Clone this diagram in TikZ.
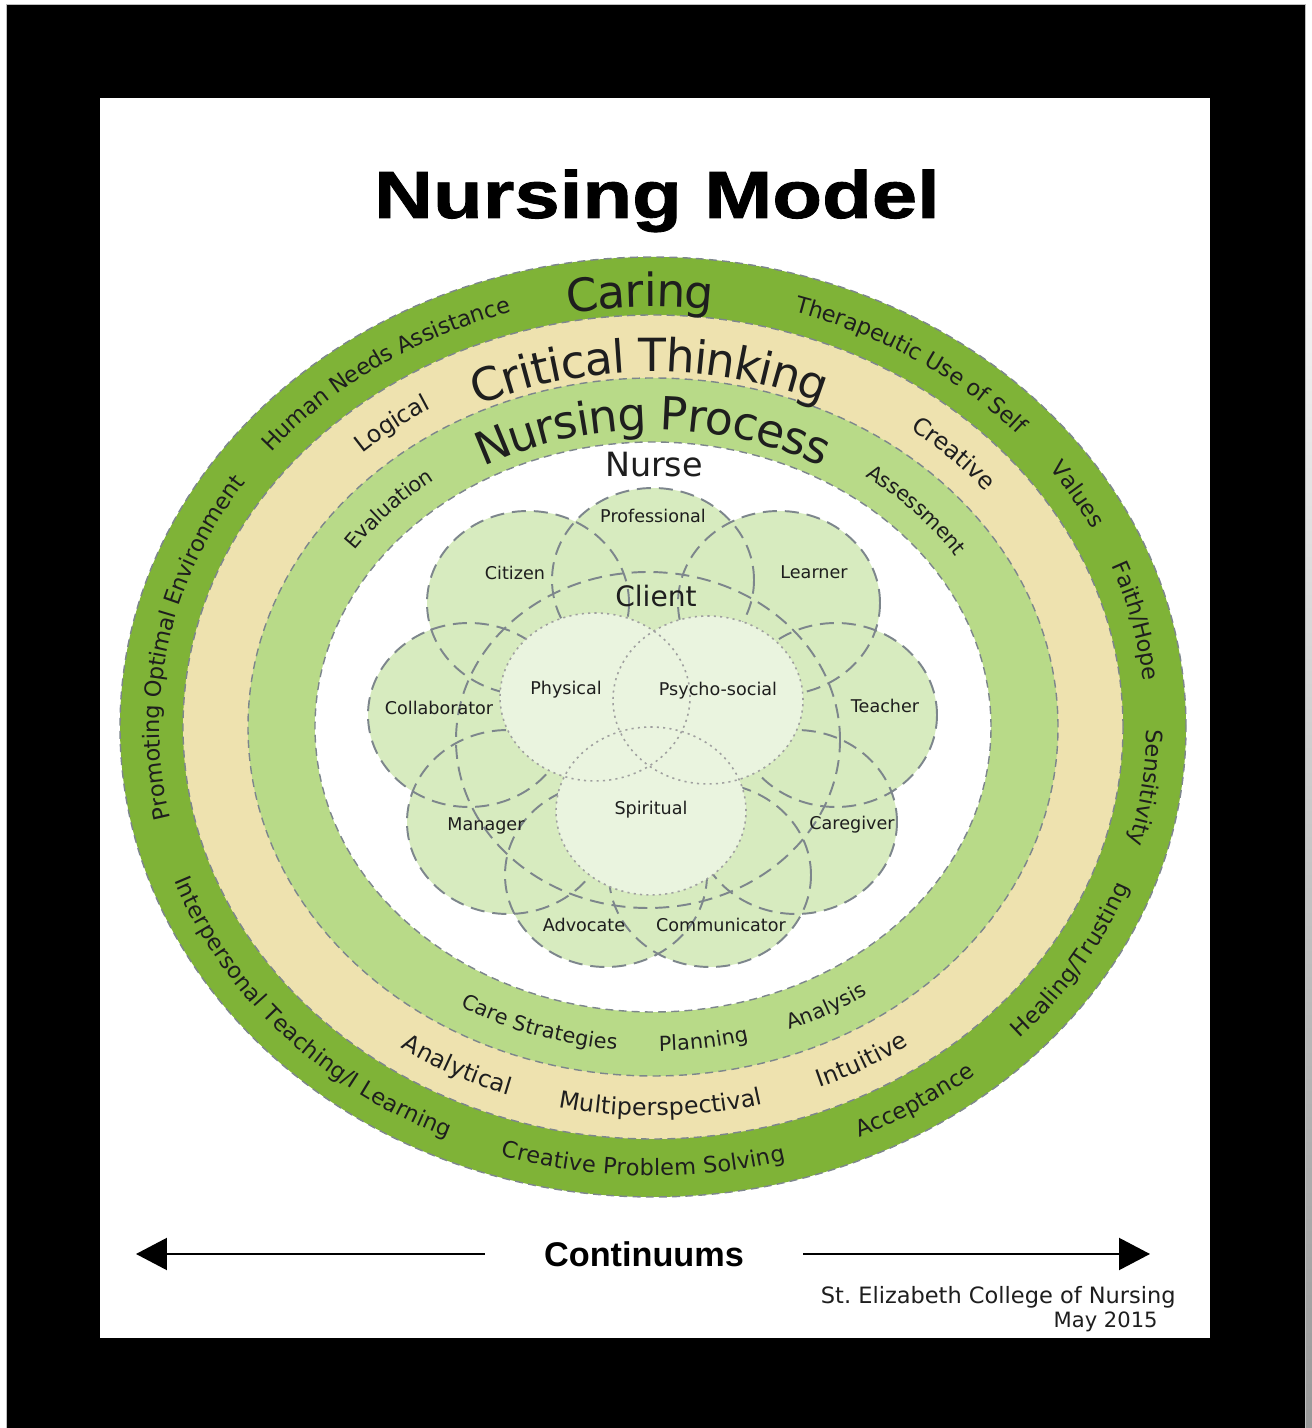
\documentclass[tikz,border=0pt]{standalone}
\usepackage{fontspec}
\setmainfont{DejaVu Sans}
\newfontfamily\titlefont[FakeStretch=1.22, FakeBold=1.3]{Liberation Sans Bold}
\newfontfamily\arialbold{Liberation Sans Bold}
\usetikzlibrary{arrows.meta, decorations.text}

\definecolor{caringgreen}{HTML}{7FB337}
\definecolor{thinktan}{HTML}{EEE2AF}
\definecolor{processgreen}{HTML}{B8DA88}
\definecolor{petalgreen}{HTML}{D7EBBF}
\definecolor{corewhite}{HTML}{EAF4DF}
\definecolor{dashgrey}{HTML}{7D868C}
\definecolor{inkgrey}{HTML}{1E1E1E}

\newcommand\headfont{\fontsize{26}{26}\selectfont}
\newcommand\caringfont{\fontsize{12.8}{13}\selectfont}
\newcommand\thinkfont{\fontsize{13.5}{14}\selectfont}
\newcommand\processfont{\fontsize{11.8}{12}\selectfont}

\tikzset{
  ringedge/.style={draw=dashgrey, line width=0.8pt, dash pattern=on 4.5pt off 3pt},
  petaledge/.style={draw=dashgrey, line width=1.1pt, dash pattern=on 8pt off 4.5pt},
  coreedge/.style={draw=gray!75, line width=0.9pt, dash pattern=on 1.2pt off 2.4pt},
  ringtext/.style={decorate, decoration={text along path, text align=center, text color=inkgrey, raise=#1}},
  ringtext/.default=-4.5pt,
  rolelabel/.style={font=\fontsize{10}{10}\selectfont, text=inkgrey, inner sep=1pt},
  continuum/.style={line width=1.2pt, -{Triangle[length=0.62cm, width=0.64cm]}},
}

\begin{document}
\begin{tikzpicture}[x=0.02cm, y=0.02cm]
    \useasboundingbox (0,0) rectangle (1312,1428);
    % frame
    \fill[white] (0,0) rectangle (1312,1428);
    \shade[top color=white, bottom color=gray!80] (1305,0) rectangle (1312,1298);
    \filldraw[fill=black, draw=gray!50, line width=0.3pt] (6,0) rectangle (1305,1424);
    \fill[white] (100,90) rectangle (1210,1330);

    \node[font=\titlefont\fontsize{38}{38}\selectfont, anchor=base] (title) at (657,1210) {Nursing Model};

    % rings
    \coordinate (ctr) at (653,701);
    \foreach \rx/\ry/\col in {533/470/caringgreen, 470/412/thinktan, 405/349/processgreen, 338/285/white}
        \filldraw[fill=\col, ringedge] (ctr) ellipse [x radius=\rx, y radius=\ry];

    \path[ringtext=-11.9pt, decoration={text={|\headfont|Caring}}]
        (ctr) ++(141.6:501.5 and 441) arc[start angle=141.6, end angle=41.6, x radius=501.5, y radius=441];
    \path[ringtext=-14.5pt, decoration={text={|\headfont|Critical Thinking}}]
        (ctr) ++(140.5:437.5 and 380.5) arc[start angle=140.5, end angle=40.5, x radius=437.5, y radius=380.5];
    \path[ringtext=-11.3pt, decoration={text={|\headfont|Nursing Process}}]
        (ctr) ++(140:371.5 and 317) arc[start angle=140, end angle=40, x radius=371.5, y radius=317];

    % caring band
    \foreach \ang/\word in {125.3/Human Needs Assistance, 56.2/Therapeutic Use of Self, 30/Values, 13/{Faith/Hope}, -7.4/Sensitivity, 169.5/Promoting Optimal Environment}
        \path[ringtext, decoration={text/.expanded={|\noexpand\caringfont|\word}}]
            (ctr) ++(\ang+50:501.5 and 441) arc[start angle=\ang+50, end angle=\ang-50, x radius=501.5, y radius=441];
    \foreach \ang/\word in {-30.5/{Healing/Trusting}, -56.5/Acceptance, -91.2/Creative Problem Solving, -138.5/{Interpersonal Teaching/I Learning}}
        \path[ringtext, decoration={text/.expanded={|\noexpand\caringfont|\word}}]
            (ctr) ++(\ang-50:501.5 and 441) arc[start angle=\ang-50, end angle=\ang+50, x radius=501.5, y radius=441];

    % thinking band
    \foreach \ang/\word in {129/Logical, 44/Creative}
        \path[ringtext=-4.8pt, decoration={text/.expanded={|\noexpand\thinkfont|\word}}]
            (ctr) ++(\ang+50:437.5 and 380.5) arc[start angle=\ang+50, end angle=\ang-50, x radius=437.5, y radius=380.5];
    \foreach \ang/\word in {-59.5/Intuitive, -88.9/Multiperspectival, -118.5/Analytical}
        \path[ringtext=-4.8pt, decoration={text/.expanded={|\noexpand\thinkfont|\word}}]
            (ctr) ++(\ang-50:437.5 and 380.5) arc[start angle=\ang-50, end angle=\ang+50, x radius=437.5, y radius=380.5];

    % process band
    \foreach \ang/\word in {138.5/Evaluation, 41.5/Assessment}
        \path[ringtext=-4.6pt, decoration={text/.expanded={|\noexpand\processfont|\word}}]
            (ctr) ++(\ang+50:371.5 and 317) arc[start angle=\ang+50, end angle=\ang-50, x radius=371.5, y radius=317];
    \foreach \ang/\word in {-60/Analysis, -81.5/Planning, -109.5/Care Strategies}
        \path[ringtext=-4.2pt, decoration={text/.expanded={|\noexpand\processfont|\word}}]
            (ctr) ++(\ang-50:371.5 and 317) arc[start angle=\ang-50, end angle=\ang+50, x radius=371.5, y radius=317];

    % nurse petals and client
    \foreach \px/\py in {653/848, 779/825, 528/825, 836/713, 469/713, 796/606, 508/606, 710/553, 606/553}
        \fill[petalgreen] (\px,\py) ellipse [x radius=101, y radius=92];
    \fill[petalgreen] (648,688) ellipse [x radius=192, y radius=168];
    \foreach \px/\py in {653/848, 779/825, 528/825, 836/713, 469/713, 796/606, 508/606, 710/553, 606/553}
        \draw[petaledge] (\px,\py) ellipse [x radius=101, y radius=92];
    \draw[petaledge] (648,688) ellipse [x radius=192, y radius=168];

    \foreach \cx/\cy in {595/731, 708/728, 651/617}
        \fill[corewhite] (\cx,\cy) ellipse [x radius=95, y radius=84];
    \foreach \cx/\cy in {595/731, 708/728, 651/617}
        \draw[coreedge] (\cx,\cy) ellipse [x radius=95, y radius=84];

    \node[font=\fontsize{19}{19}\selectfont, text=inkgrey] (nurse) at (654,963) {Nurse};
    \node[font=\fontsize{16}{16}\selectfont, text=inkgrey] (client) at (656,832) {Client};
    \node[rolelabel] (professional) at (653,912) {Professional};
    \node[rolelabel] (citizen) at (515,855) {Citizen};
    \node[rolelabel] (learner) at (814,856) {Learner};
    \node[rolelabel] (collaborator) at (439,720) {Collaborator};
    \node[rolelabel] (teacher) at (885,722) {Teacher};
    \node[rolelabel] (manager) at (486,602) {Manager};
    \node[rolelabel] (caregiver) at (852,603) {Caregiver};
    \node[rolelabel] (advocate) at (584,503) {Advocate};
    \node[rolelabel] (communicator) at (721,503) {Communicator};
    \node[rolelabel] (physical) at (566,738) {Physical};
    \node[rolelabel] (psychosocial) at (718,737) {Psycho-social};
    \node[rolelabel] (spiritual) at (651,618) {Spiritual};

    % continuums
    \node[font=\arialbold\fontsize{19.5}{19.5}\selectfont, inner xsep=1.18cm] (continuums) at (644,174) {Continuums};
    \coordinate (leftend) at (136,174);
    \coordinate (rightend) at (1150,174);
    \draw[continuum] (continuums) -- (leftend);
    \draw[continuum] (continuums) -- (rightend);

    \node[anchor=east, inner sep=0pt, font=\fontsize{12.8}{12.8}\selectfont, text=inkgrey] (college) at (1176,131) {St.\ Elizabeth College of Nursing};
    \node[anchor=east, inner sep=0pt, font=\fontsize{12}{12}\selectfont, text=inkgrey] (date) at (1158,106) {May 2015};
\end{tikzpicture}
\end{document}
